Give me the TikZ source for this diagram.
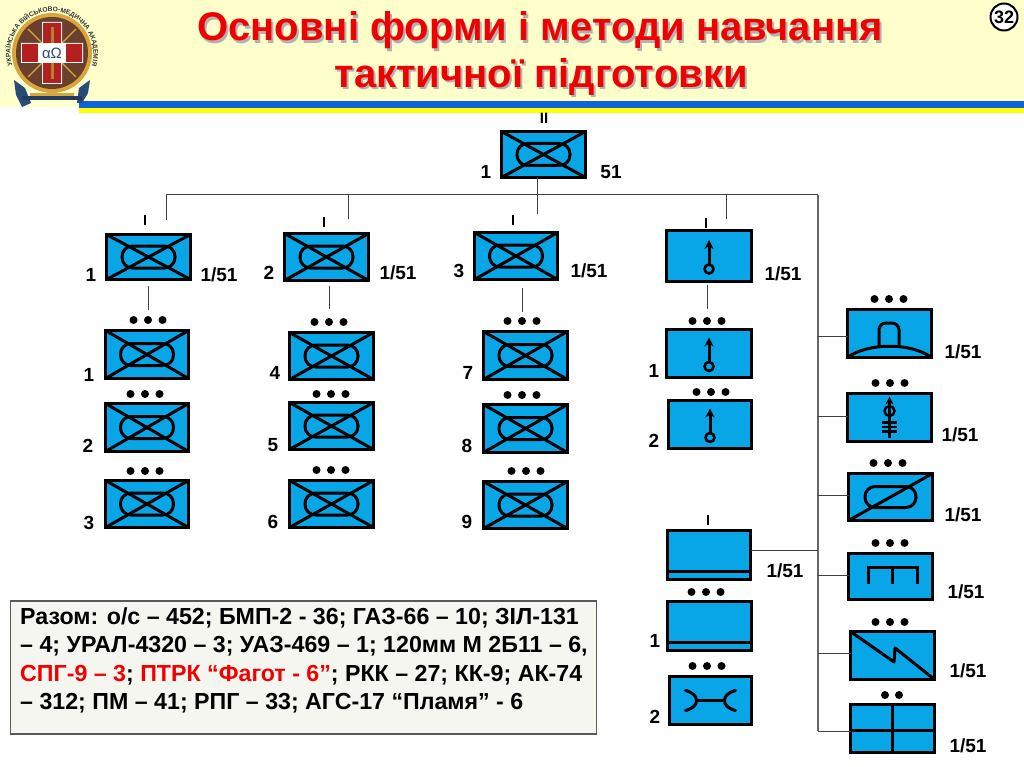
\documentclass[tikz,border=0pt]{standalone}
\usepackage{fontspec}
\setmainfont{Liberation Sans}
\usetikzlibrary{decorations.text,calc,arrows.meta}
\definecolor{unitblue}{HTML}{08A6E6}
\definecolor{cream}{HTML}{FFFFCC}
\definecolor{stripeblue}{HTML}{0F63D8}
\definecolor{stripeyellow}{HTML}{FFFF00}
\definecolor{titlered}{HTML}{F00000}
\definecolor{noteback}{HTML}{F6F6F1}
\definecolor{logobrown}{HTML}{6A3F2C}
\definecolor{logored}{HTML}{B5201F}
\definecolor{logogold}{HTML}{D7A63C}
\definecolor{logonavy}{HTML}{2A4A78}
\tikzset{
  unitbox/.style={draw=black,fill=unitblue,line width=3pt,inner sep=0pt,outer sep=0pt},
  sym/.style={line width=3pt,line cap=round,line join=round},
  symthin/.style={line width=2.4pt,line cap=butt},
  link/.style={draw=black!75,line width=1pt},
  trunk/.style={draw=black!60,line width=1.8pt},
  lab/.style={font=\fontsize{19}{21}\selectfont\bfseries,inner sep=0pt},
  ttl/.style={font=\fontsize{40}{44}\selectfont\bfseries,inner sep=0pt,text=titlered},
  ttlshadow/.style={font=\fontsize{40}{44}\selectfont\bfseries,inner sep=0pt,text=black!30},
  dotmark/.style={fill=black}
}
\newcommand{\ubox}[5]{\node[unitbox,minimum width={#4-#2-3},minimum height={#5-#3-3}] (#1) at ({(#2+#4)/2},{(#3+#5)/2}) {};}
\newcommand{\threedots}[2]{\foreach \dx in {-14.5,0,14.5}{\fill[dotmark] ({#1+\dx},#2) circle[radius=4];}}
\newcommand{\twodots}[2]{\foreach \dx in {-7,7}{\fill[dotmark] ({#1+\dx},#2) circle[radius=4];}}
\newcommand{\tick}[3]{\draw[black,line width=2.4pt] (#1,#2) -- (#1,#3);}
\newcommand{\symmech}[1]{%
  \draw[sym,rounded corners=10.5pt,shift={(#1.center)}] (-26.5,-11) rectangle (26.5,11);
  \draw[sym] (#1.north west) -- (#1.south east) (#1.south west) -- (#1.north east);}
\newcommand{\symrecon}[1]{%
  \begin{scope}[shift={(#1.center)}]
  \draw[sym,line cap=butt,-{Stealth[length=9pt,width=9pt]}] (0,9) -- (0,-16);
  \draw[line width=2.6pt,fill=unitblue] (0,13) circle[radius=4.5];
  \end{scope}}
\newcommand{\symline}[1]{\draw[sym,line cap=butt] ($(#1.south west)+(0,-8.5)$) -- ($(#1.south east)+(0,-8.5)$);}
\begin{document}
\begin{tikzpicture}[x=1pt,y=-1pt]
\useasboundingbox (0,0) rectangle (1024,767);
\fill[white] (0,0) rectangle (1024,767);
% header
\fill[cream] (0,0) rectangle (1024,107);
\fill[stripeblue] (79,101) rectangle (1024,108);
\fill[stripeyellow] (79,108) rectangle (1024,113.5);
% logo
\begin{scope}[shift={(52,53)},y=1pt]
  \path[decorate,decoration={text along path,text align=center,
     text={|\fontsize{6.6}{7}\selectfont\bfseries\color{black!80}|УКРАЇНСЬКА ВІЙСЬКОВО-МЕДИЧНА АКАДЕМІЯ}}]
     (232:41.5) arc[start angle=232,end angle=-52,radius=41.5];
  \fill[logogold] (0,0) circle[radius=40];
  \fill[logobrown] (0,0) circle[radius=36];
  \draw[logogold,line width=1.4pt] (-24,24) -- (24,-24) (-24,-24) -- (24,24);
  \fill[white] (-10,-31) rectangle (10,31) (-31,-10) rectangle (31,10);
  \fill[logored] (-9,-30) rectangle (9,30) (-30,-9) rectangle (30,9);
  \fill[logogold!80!black] (-1.5,-26) rectangle (1.5,26);
  \fill[white] (-14,-10) rectangle (14,10);
  \node[inner sep=0pt,text=logonavy] (logoal) at (0,0) {\fontsize{15}{16}\selectfont αΩ};
  \fill[logonavy] (-38,-27) -- (-27,-35) -- (-21,-50) -- (-30,-54) -- (-36,-42) -- cycle;
  \fill[logonavy] (38,-27) -- (27,-35) -- (25,-50) -- (30,-50) -- (36,-40) -- cycle;
  \fill[logonavy!80!black] (-30,-43) rectangle (30,-47);
  \fill[logogold] (-22,-40) rectangle (22,-43);
\end{scope}
% title
\node[ttlshadow] (t1s) at (542,33) {Основні форми і методи навчання};
\node[ttlshadow] (t2s) at (543,79) {тактичної підготовки};
\node[ttl] (t1) at (540,30.5) {Основні форми і методи навчання};
\node[ttl] (t2) at (541,76.5) {тактичної підготовки};
% page number
\node[draw=black,line width=2pt,circle,fill=white,minimum size=27pt,inner sep=0pt,font=\fontsize{18}{19}\selectfont\bfseries] (pg) at (1004,17) {32};
% units
\ubox{bat}{500}{130}{587}{179}
\ubox{ca}{105}{233}{192}{281}
\ubox{cb}{283}{232}{370}{282}
\ubox{cc}{473}{231}{559}{281}
\ubox{cd}{665}{229}{753}{283}
\ubox{pa}{104}{329}{190}{380}
\ubox{pb}{104}{402}{190}{453}
\ubox{pc}{104}{479}{190}{529}
\ubox{pd}{288}{331}{375}{381}
\ubox{pe}{288}{401}{375}{451}
\ubox{pf}{288}{479}{375}{529}
\ubox{pg2}{482}{330}{569}{381}
\ubox{ph}{482}{403}{569}{454}
\ubox{pi}{482}{480}{569}{530}
\ubox{ra}{665}{328}{753}{379}
\ubox{rb}{667}{399}{753}{450}
\ubox{sa}{666}{529}{752}{581}
\ubox{sb}{666}{600}{753}{652}
\ubox{sc}{668}{675}{753}{726}
\ubox{ua}{846}{308}{933}{359}
\ubox{ub}{846}{392}{933}{443}
\ubox{uc}{847}{472}{934}{522}
\ubox{ud}{847}{552}{934}{601}
\ubox{ue}{849}{630}{936}{681}
\ubox{uf}{849}{703}{936}{754}
\foreach \n in {bat,ca,cb,cc,pa,pb,pc,pd,pe,pf,pg2,ph,pi}{\symmech{\n}}
\foreach \n in {cd,ra,rb}{\symrecon{\n}}
\symline{sa}\symline{sb}
% repair
\begin{scope}[shift={(sc.center)}]
  \draw[sym] (-25,-10) .. controls (-17,-8) and (-14,-4) .. (-14,0) .. controls (-14,4) and (-17,8) .. (-25,10);
  \draw[sym] (25,-10) .. controls (17,-8) and (14,-4) .. (14,0) .. controls (14,4) and (17,8) .. (25,10);
  \draw[sym] (-14,0) -- (14,0);
\end{scope}
% dome
\draw[sym] (ua.south west) .. controls ($(ua.south west)+(20,-15)$) and ($(ua.south east)+(-20,-15)$) .. (ua.south east);
\draw[sym,rounded corners=7pt,line cap=butt] (879,347) -- (879,323) -- (899,323) -- (899,347);
% R2
\begin{scope}[shift={(ub.center)}]
  \draw[sym,line cap=butt,-{Stealth[length=8pt,width=8pt]}] (0,20) -- (0,-21);
  \draw[line width=2.4pt] (0,-6.5) circle[radius=5];
  \draw[symthin] (-7.5,5) -- (7.5,5) (-7.5,9.5) -- (7.5,9.5) (-7.5,14) -- (7.5,14);
\end{scope}
% R3
\draw[sym,rounded corners=10pt,shift={(uc.center)}] (-25.5,-10.5) rectangle (25.5,10.5);
\draw[sym] (uc.south west) -- (uc.north east);
% R4
\draw[sym,line cap=butt,line join=miter] (868,584) -- (868,567) -- (917,567) -- (917,584) (892.5,567) -- (892.5,584);
% R5
\draw[sym] (ue.north west) -- (894,662) -- (895,648) -- (ue.south east);
% R6
\draw[sym,line cap=butt] (849,730) -- (936,730) (892.5,703) -- (892.5,754);
% dots
\threedots{148}{320}\threedots{145}{394}\threedots{145}{471}
\threedots{329}{322}\threedots{331}{394}\threedots{331}{470}
\threedots{522}{321}\threedots{522}{395}\threedots{526}{471}
\threedots{707}{321}\threedots{711}{392}
\threedots{706}{592}\threedots{707}{666}
\threedots{889}{299}\threedots{890}{383}\threedots{888}{463}
\threedots{890}{543}\threedots{890}{622}\twodots{892}{695}
% ticks
\node[inner sep=0pt,font=\fontsize{15}{16}\selectfont\bfseries] (ii) at (544,118) {II};
\tick{145}{215}{225}\tick{324}{217}{227}\tick{513}{215}{225}\tick{706}{218}{228}\tick{708}{515}{525}
% trunk
\coordinate (jbat) at (537,195);
\coordinate (jleft) at (166,195);
\coordinate (jright) at (818,195);
\coordinate (jb) at (348,195);
\coordinate (jd) at (726,195);
\coordinate (jbottom) at (818,731);
\draw[link] (jbat |- bat.south) -- (jbat);
\draw[link] (jleft) -- (jright);
\draw[link] (jleft) -- (166,220);
\draw[link] (jb) -- (348,219);
\draw[link] (jbat) -- (537,214);
\draw[link] (jd) -- (726,219);
\draw[trunk] (jright) -- (jbottom);
\coordinate (ja) at (818,336);\draw[link] (ja) -- (ua.west |- ja);
\coordinate (jc) at (818,416);\draw[link] (jc) -- (ub.west |- jc);
\coordinate (je) at (818,495);\draw[link] (je) -- (uc.west |- je);
\coordinate (jf) at (818,575);\draw[link] (jf) -- (ud.west |- jf);
\coordinate (jg) at (818,653);\draw[link] (jg) -- (ue.west |- jg);
\coordinate (jh) at (818,731);\draw[link] (jh) -- (uf.west |- jh);
\coordinate (js) at (818,550);\draw[link] (sa.east |- js) -- (js);
\draw[link] (148,286) -- (148,310);
\draw[link] (329,286) -- (329,309);
\draw[link] (522,288) -- (522,312);
\draw[link] (707,285) -- (707,309);
% labels
\node[lab] (l01) at (486,172) {1};\node[lab] (l02) at (611,172) {51};
\node[lab] (l03) at (91,275) {1};\node[lab] (l04) at (219,275) {1/51};
\node[lab] (l05) at (269,273) {2};\node[lab] (l06) at (398,273) {1/51};
\node[lab] (l07) at (459,271) {3};\node[lab] (l08) at (589,271) {1/51};
\node[lab] (l09) at (783,274) {1/51};
\node[lab] (l10) at (89,375) {1};\node[lab] (l11) at (88,446) {2};\node[lab] (l12) at (89,523) {3};
\node[lab] (l13) at (275,373) {4};\node[lab] (l14) at (273,445) {5};\node[lab] (l15) at (273,522) {6};
\node[lab] (l16) at (468,373) {7};\node[lab] (l17) at (467,446) {8};\node[lab] (l18) at (467,522) {9};
\node[lab] (l19) at (654,371) {1};\node[lab] (l20) at (654,441) {2};
\node[lab] (l21) at (785,571) {1/51};\node[lab] (l22) at (655,641) {1};\node[lab] (l23) at (655,717) {2};
\node[lab] (l24) at (963,352) {1/51};\node[lab] (l25) at (960,435) {1/51};\node[lab] (l26) at (963,515) {1/51};
\node[lab] (l27) at (966,592) {1/51};\node[lab] (l28) at (968,671) {1/51};\node[lab] (l29) at (968,746) {1/51};
% note
\node[draw=black!65,line width=1.2pt,fill=noteback,minimum width=586pt,minimum height=133pt,inner sep=0pt,outer sep=0pt] (note) at (303.5,667.5) {};
\node[anchor=north west,inner sep=0pt,align=left,font=\fontsize{23.2}{28.3}\selectfont\bfseries] (notetext) at (20,607.5) {%
Разом: о/с – 452; БМП-2 - 36; ГАЗ-66 – 10; ЗІЛ-131\\
– 4; УРАЛ-4320 – 3; УАЗ-469 – 1; 120мм М 2Б11 – 6,\\
\textcolor{titlered}{СПГ-9 – 3}; \textcolor{titlered}{ПТРК “Фагот - 6”}; РКК – 27; КК-9; АК-74\\
– 312; ПМ – 41; РПГ – 33; АГС-17 “Пламя” - 6};
\end{tikzpicture}
\end{document}
